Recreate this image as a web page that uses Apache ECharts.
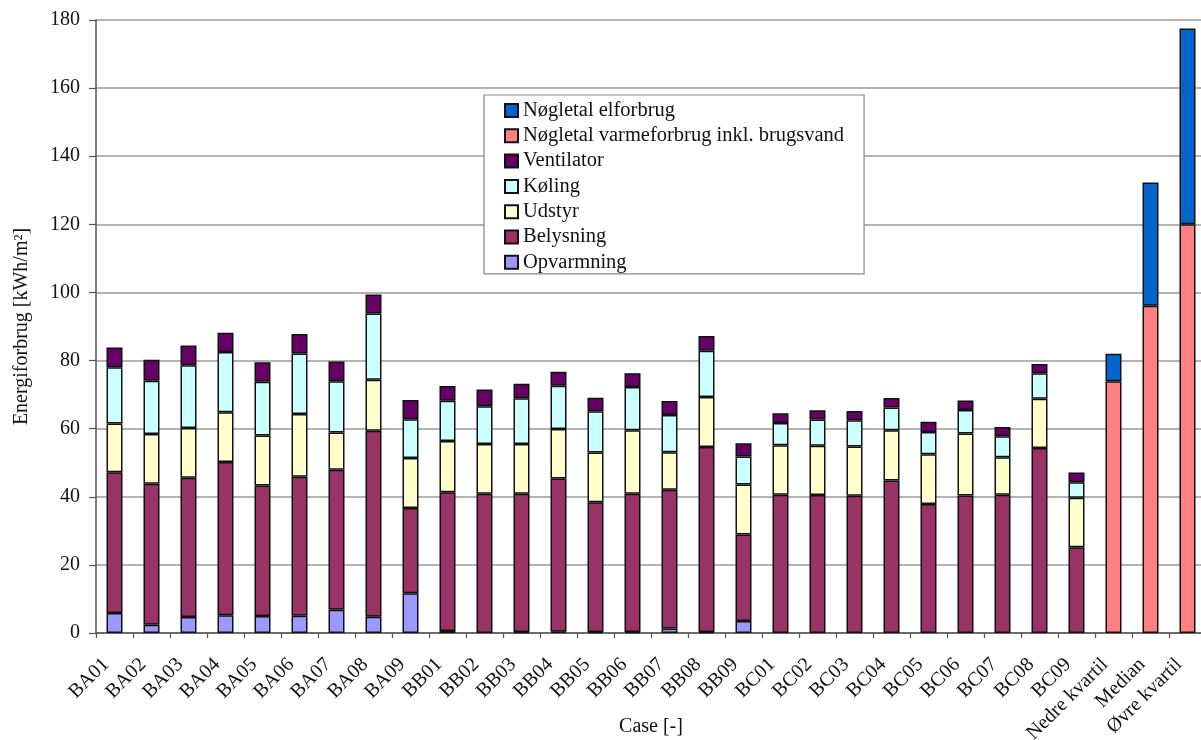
<!DOCTYPE html>
<html>
<head>
<meta charset="utf-8">
<script src="https://cdn.jsdelivr.net/npm/echarts@6/dist/echarts.min.js"></script>
<style>
  html, body { margin: 0; padding: 0; background: #fff; }
  #chart { width: 1201px; height: 740px; }
</style>
</head>
<body>
<div id="chart"></div>
<script>
// Building cases (BA/BB/BC) followed by the benchmark quartiles
const caseNames = ['BA01','BA02','BA03','BA04','BA05','BA06','BA07','BA08','BA09',
                   'BB01','BB02','BB03','BB04','BB05','BB06','BB07','BB08','BB09',
                   'BC01','BC02','BC03','BC04','BC05','BC06','BC07','BC08','BC09'];
const benchmarkNames = ['Nedre kvartil', 'Median', 'Øvre kvartil'];

// Energy use per case, kWh/m² (stacked from the bottom up)
const opvarmning = [5.9, 2.4, 4.7, 5.2, 5.0, 5.1, 6.8, 4.8, 11.7,
                    0.6, null, 0.3, 0.4, 0.3, 0.3, 1.3, 0.3, 3.5,
                    null, null, null, null, null, null, null, null, null];
const belysning  = [41.3, 41.4, 40.9, 45.0, 38.3, 40.8, 41.1, 54.6, 25.0,
                    40.7, 40.9, 40.6, 45.0, 38.1, 40.6, 40.8, 54.3, 25.4,
                    40.6, 40.5, 40.3, 44.8, 37.9, 40.4, 40.6, 54.3, 25.2];
const udstyr     = [14.3, 14.6, 14.6, 14.6, 14.7, 18.4, 11.0, 15.0, 14.7,
                    15.1, 14.6, 14.6, 14.5, 14.6, 18.6, 11.0, 14.7, 14.7,
                    14.5, 14.5, 14.5, 14.7, 14.6, 18.2, 11.0, 14.5, 14.5];
const koling     = [16.5, 15.7, 18.4, 17.7, 15.8, 17.8, 15.0, 19.4, 11.4,
                    11.8, 11.1, 13.4, 12.7, 12.1, 12.7, 10.9, 13.6, 8.2,
                    6.6, 7.7, 7.7, 6.7, 6.5, 6.9, 6.2, 7.5, 4.6];
const ventilator = [5.8, 6.1, 5.8, 5.7, 5.7, 5.7, 5.8, 5.6, 5.6,
                    4.3, 4.9, 4.3, 4.1, 4.0, 4.1, 4.1, 4.3, 3.9,
                    2.8, 2.7, 2.7, 2.8, 3.0, 2.8, 2.7, 2.7, 2.8];

// Benchmark key figures for the quartiles
const varmeforbrug = [73.9, 96.1, 120.0];
const elforbrug    = [8.1, 36.2, 57.5];

const yTicks = { min: 0, max: 180, interval: 20 };

const categories = caseNames.concat(benchmarkNames);
const caseSeries = (arr) => arr.concat(benchmarkNames.map(() => null));
const benchSeries = (arr) => caseNames.map(() => null).concat(arr);

const serif = 'Liberation Serif';
const border = { borderColor: '#111', borderWidth: 1.5 };

function bar(name, data, color) {
  return {
    name, type: 'bar', stack: 'total', data,
    barWidth: 16,
    itemStyle: Object.assign({ color }, border),
    emphasis: { disabled: true }
  };
}

const chart = echarts.init(document.getElementById('chart'), null, { renderer: 'canvas' });
chart.setOption({
  animation: false,
  backgroundColor: '#fff',
  grid: { left: 96, top: 20, width: 1110, height: 613, containLabel: false, outerBoundsMode: 'none' },
  legend: {
    orient: 'vertical',
    left: 484, top: 95,
    data: ['Nøgletal elforbrug', 'Nøgletal varmeforbrug inkl. brugsvand', 'Ventilator',
           'Køling', 'Udstyr', 'Belysning', 'Opvarmning'],
    icon: 'rect',
    itemWidth: 13, itemHeight: 13, itemGap: 4.3,
    padding: [5, 20, 1, 20],
    backgroundColor: '#fff',
    borderColor: '#888', borderWidth: 1.2,
    selectedMode: false,
    textStyle: { fontFamily: serif, fontSize: 20.5, lineHeight: 20, color: '#111' }
  },
  xAxis: {
    type: 'category',
    data: categories,
    name: 'Case [-]',
    nameLocation: 'middle',
    nameGap: 84,
    nameMoveOverlap: false,
    nameTextStyle: { fontFamily: serif, fontSize: 20, color: '#111' },
    axisLine: { lineStyle: { color: '#555', width: 1.5 } },
    axisTick: { show: true, length: 5, lineStyle: { color: '#555', width: 1.2 }, alignWithLabel: false },
    axisLabel: { rotate: 45, margin: 20, padding: [0, 12, 0, 0], interval: 0, fontFamily: serif, fontSize: 20, color: '#111' }
  },
  yAxis: {
    type: 'value',
    min: yTicks.min, max: yTicks.max, interval: yTicks.interval,
    name: 'Energiforbrug [kWh/m²]',
    nameLocation: 'middle',
    nameGap: 64,
    nameMoveOverlap: false,
    nameTextStyle: { fontFamily: serif, fontSize: 20, color: '#111' },
    axisLine: { show: true, lineStyle: { color: '#555', width: 1.5 } },
    axisTick: { show: true, length: 7, lineStyle: { color: '#555', width: 1.2 } },
    axisLabel: { margin: 16, fontFamily: serif, fontSize: 20, color: '#111' },
    splitLine: { show: true, lineStyle: { color: '#9a9a9a', width: 1.5 } }
  },
  series: [
    bar('Opvarmning', caseSeries(opvarmning), '#9999FF'),
    bar('Belysning', caseSeries(belysning), '#993366'),
    bar('Udstyr', caseSeries(udstyr), '#FFFFCC'),
    bar('Køling', caseSeries(koling), '#CCFFFF'),
    bar('Ventilator', caseSeries(ventilator), '#660066'),
    bar('Nøgletal varmeforbrug inkl. brugsvand', benchSeries(varmeforbrug), '#FF8080'),
    bar('Nøgletal elforbrug', benchSeries(elforbrug), '#0066CC')
  ]
});
</script>
</body>
</html>
